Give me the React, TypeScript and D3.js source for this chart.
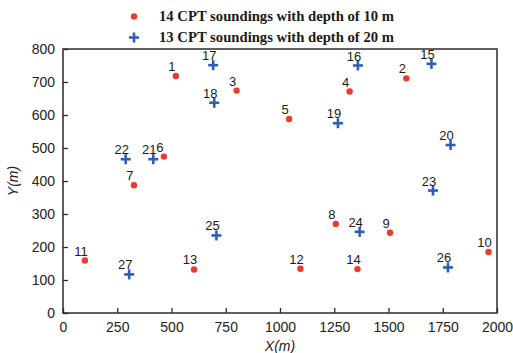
import React, { useEffect, useRef } from "react";
import * as d3 from "d3";

// 14 shallow soundings (red dots)
const redIds = [1, 2, 3, 4, 5, 6, 7, 8, 9, 10, 11, 12, 13, 14];
const redX = [520, 1582, 800, 1321, 1042, 465, 327, 1257, 1507, 1961, 101, 1094, 604, 1357];
const redY = [718, 711, 674, 671, 588, 474, 387, 270, 243, 185, 159, 134, 132, 133];

// 13 deep soundings (blue crosses)
const blueIds = [15, 16, 17, 18, 19, 20, 21, 22, 23, 24, 25, 26, 27];
const blueX = [1698, 1359, 692, 697, 1267, 1786, 416, 289, 1705, 1367, 707, 1774, 305];
const blueY = [755, 750, 751, 637, 575, 509, 466, 466, 371, 246, 235, 138, 117];

const xTicks = [0, 250, 500, 750, 1000, 1250, 1500, 1750, 2000];
const yTicks = [0, 100, 200, 300, 400, 500, 600, 700, 800];

const legendLabels = [
  "14 CPT soundings with depth of 10 m",
  "13 CPT soundings with depth of 20 m",
];

const RED = "#ee3a2a";
const BLUE = "#2f5db5";

export default function App() {
  const ref = useRef<SVGSVGElement>(null);

  useEffect(() => {
    const svg = d3.select(ref.current);
    svg.selectAll("*").remove();

    const margin = { top: 49, right: 16, bottom: 40, left: 63 };
    const W = 513, H = 353;
    const w = W - margin.left - margin.right;
    const h = H - margin.top - margin.bottom;

    const x = d3.scaleLinear().domain([0, 2000]).range([0, w]);
    const y = d3.scaleLinear().domain([0, 800]).range([h, 0]);

    const g = svg.append("g").attr("transform", `translate(${margin.left},${margin.top})`);

    // frame
    g.append("rect")
      .attr("width", w).attr("height", h)
      .attr("fill", "none").attr("stroke", "#2b2b2b").attr("stroke-width", 1.5);

    // axes with inward ticks, plain numbers (no thousands comma)
    const fmt = d3.format("d");
    const xAxis = g.append("g")
      .attr("transform", `translate(0,${h})`)
      .call(d3.axisBottom(x).tickValues(xTicks).tickFormat(fmt).tickSizeInner(-5).tickSizeOuter(0).tickPadding(9));
    const yAxis = g.append("g")
      .call(d3.axisLeft(y).tickValues(yTicks).tickFormat(fmt).tickSizeInner(-5).tickSizeOuter(0).tickPadding(8));

    [xAxis, yAxis].forEach(ax => {
      ax.select(".domain").remove();
      ax.selectAll("line").attr("stroke", "#2b2b2b").attr("stroke-width", 1.3);
      ax.selectAll("text")
        .attr("fill", "#222")
        .style("font-family", "Liberation Sans, Arial, sans-serif")
        .style("font-size", "14px");
    });

    // axis titles
    g.append("text")
      .attr("x", w / 2).attr("y", h + 38)
      .attr("text-anchor", "middle")
      .style("font-family", "Liberation Sans, Arial, sans-serif")
      .style("font-size", "14px").style("font-style", "italic")
      .attr("fill", "#222")
      .text("X(m)");
    g.append("text")
      .attr("transform", `translate(-45,${h / 2}) rotate(-90)`)
      .attr("text-anchor", "middle")
      .style("font-family", "Liberation Sans, Arial, sans-serif")
      .style("font-size", "14px").style("font-style", "italic")
      .attr("fill", "#222")
      .text("Y(m)");

    const red = redIds.map((id, i) => ({ id, x: redX[i], y: redY[i] }));
    const blue = blueIds.map((id, i) => ({ id, x: blueX[i], y: blueY[i] }));

    // red dots
    g.selectAll("circle.red")
      .data(red)
      .join("circle")
      .attr("class", "red")
      .attr("cx", d => x(d.x)).attr("cy", d => y(d.y))
      .attr("r", 3.2).attr("fill", RED);

    // blue crosses
    g.selectAll("g.plus")
      .data(blue)
      .join("g")
      .attr("class", "plus")
      .attr("transform", d => `translate(${x(d.x)},${y(d.y)})`)
      .each(function () {
        const p = d3.select(this);
        p.append("line").attr("x1", -5).attr("x2", 5).attr("y1", 0).attr("y2", 0);
        p.append("line").attr("x1", 0).attr("x2", 0).attr("y1", -5).attr("y2", 5);
        p.selectAll("line").attr("stroke", BLUE).attr("stroke-width", 2.6);
      });

    // number labels above the markers
    g.selectAll("text.lbl")
      .data([...red, ...blue])
      .join("text")
      .attr("class", "lbl")
      .attr("x", d => x(d.x) - 4).attr("y", d => y(d.y) - 5)
      .attr("text-anchor", "middle")
      .style("font-family", "Liberation Sans, Arial, sans-serif")
      .style("font-size", "13px")
      .attr("fill", "#1a1a1a")
      .text(d => d.id);

    // legend above the plot
    const lg = svg.append("g").attr("transform", "translate(134,0)");
    lg.append("circle").attr("cx", 0).attr("cy", 16.5).attr("r", 3.2).attr("fill", RED);
    lg.append("line").attr("x1", -5).attr("x2", 5).attr("y1", 37.5).attr("y2", 37.5)
      .attr("stroke", BLUE).attr("stroke-width", 2.6);
    lg.append("line").attr("x1", 0).attr("x2", 0).attr("y1", 32.5).attr("y2", 42.5)
      .attr("stroke", BLUE).attr("stroke-width", 2.6);
    lg.selectAll("text.leg")
      .data(legendLabels)
      .join("text")
      .attr("class", "leg")
      .attr("x", 25).attr("y", (d, i) => 20.5 + i * 21)
      .style("font-family", "Liberation Serif, Times New Roman, serif")
      .style("font-weight", "bold")
      .style("font-size", "14px")
      .attr("textLength", 235)
      .attr("lengthAdjust", "spacingAndGlyphs")
      .attr("fill", "#1a1a1a")
      .text(d => d);
  }, []);

  return (
    <svg
      ref={ref}
      width={513}
      height={353}
      style={{ position: "absolute", left: 0, top: 0, background: "#fff" }}
    />
  );
}
